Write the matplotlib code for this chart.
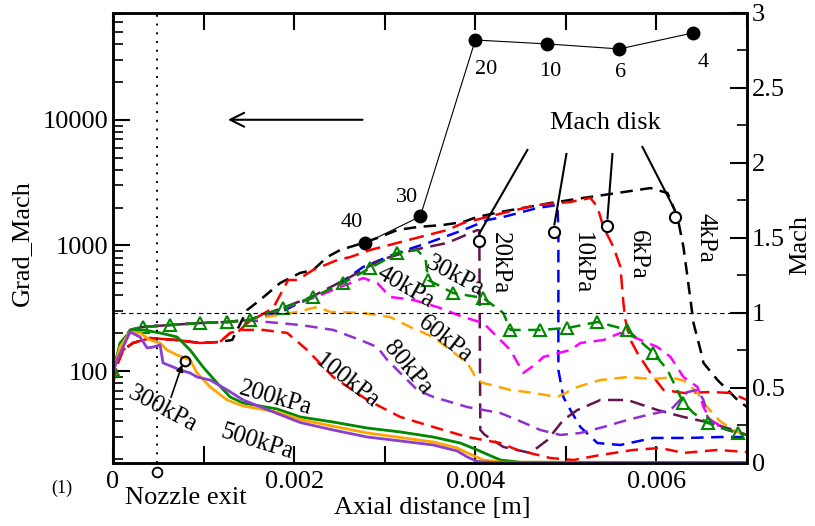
import numpy as np
import matplotlib
matplotlib.use("Agg")
import matplotlib.pyplot as plt
from matplotlib.ticker import LogLocator, MultipleLocator, NullFormatter

plt.rcParams['font.family'] = ['Liberation Serif', 'DejaVu Serif']
plt.rcParams['font.size'] = 19

# ---- Mach number along the axis (x in mm) ----
x_500 = [0, 0.044, 0.188, 0.298, 0.376, 0.442, 0.519, 0.552, 0.663, 0.74, 0.851, 0.928, 1.072, 1.26, 1.436,
         1.812, 2.066, 2.431, 2.807, 3.171, 3.536, 3.8, 3.912, 4.022, 4.2, 7.0]
m_500 = [0.6, 0.687, 0.873, 0.84, 0.767, 0.773, 0.787, 0.667, 0.64, 0.62, 0.6, 0.573, 0.553, 0.487, 0.42,
         0.33, 0.27, 0.22, 0.173, 0.147, 0.12, 0.08, 0.04, 0.01, 0.003, 0.003]

x_300 = [0, 0.077, 0.188, 0.298, 0.409, 0.519, 0.597, 0.707, 0.851, 0.928, 1.072, 1.26, 1.436, 1.812, 2.066,
         2.431, 2.807, 3.171, 3.536, 3.8, 3.912, 4.088, 4.3, 7.0]
m_300 = [0.6, 0.773, 0.873, 0.867, 0.82, 0.8, 0.753, 0.72, 0.687, 0.6, 0.507, 0.42, 0.38, 0.34, 0.29,
         0.245, 0.2, 0.17, 0.14, 0.1, 0.067, 0.02, 0.005, 0.003]

x_200 = [0, 0.077, 0.188, 0.331, 0.519, 0.707, 0.851, 0.994, 1.149, 1.293, 1.436, 1.812, 2.066, 2.431, 2.807,
         3.171, 3.536, 3.834, 4.022, 4.199, 4.276, 4.5, 7.0]
m_200 = [0.6, 0.8, 0.873, 0.887, 0.867, 0.84, 0.753, 0.64, 0.533, 0.44, 0.4, 0.36, 0.307, 0.273, 0.233,
         0.207, 0.173, 0.133, 0.087, 0.04, 0.02, 0.005, 0.003]

x_100 = [0, 0.044, 0.11, 0.22, 0.409, 0.7, 0.961, 1.18, 1.293, 1.436, 1.657, 1.923, 2.144, 2.431, 2.807,
         3.171, 3.536, 3.912, 4.276, 4.464, 4.829, 5.083, 5.381, 5.746, 6.044, 6.298, 6.674, 7.0]
m_100 = [0.533, 0.653, 0.753, 0.8, 0.833, 0.82, 0.8, 0.807, 0.867, 0.887, 0.887, 0.867, 0.753, 0.573, 0.42,
         0.307, 0.24, 0.173, 0.133, 0.087, 0.033, 0.02, 0.053, 0.087, 0.1, 0.067, 0.087, 0.073]

x_80 = [0, 0.08, 0.19, 0.33, 0.63, 0.96, 1.26, 1.436, 1.702, 2.066, 2.431, 2.729, 2.917, 3.028, 3.171, 3.359,
        3.536, 3.912, 4.276, 4.464, 4.718, 4.939, 5.16, 5.414, 5.68, 5.9, 6.155, 6.343, 6.453, 6.519, 6.564,
        6.674, 6.895, 7.0]
m_80 = [0.62, 0.79, 0.887, 0.907, 0.92, 0.933, 0.94, 0.953, 0.94, 0.92, 0.887, 0.82, 0.773, 0.687, 0.6, 0.487,
        0.44, 0.373, 0.333, 0.287, 0.22, 0.187, 0.2, 0.24, 0.287, 0.32, 0.353, 0.473, 0.487, 0.42, 0.307,
        0.24, 0.2, 0.187]

x_60 = [0, 0.08, 0.19, 0.33, 0.63, 0.96, 1.26, 1.5, 1.75, 2.033, 2.254, 2.4, 2.76, 3.06, 3.28, 3.536, 3.724,
        3.912, 4.022, 4.088, 4.387, 4.641, 4.906, 5.127, 5.381, 5.68, 5.967, 6.155, 6.3, 6.45, 6.55, 6.7,
        6.85, 7.0]
m_60 = [0.62, 0.79, 0.887, 0.907, 0.92, 0.933, 0.94, 0.953, 0.98, 1.007, 1.04, 1.007, 1.0, 0.973, 0.907, 0.84,
        0.753, 0.667, 0.553, 0.533, 0.487, 0.467, 0.44, 0.507, 0.553, 0.573, 0.56, 0.57, 0.55, 0.47, 0.38,
        0.28, 0.22, 0.18]

x_40 = [0, 0.08, 0.19, 0.33, 0.63, 0.96, 1.26, 1.5, 1.6, 1.88, 2.21, 2.508, 2.762, 2.917, 3.061, 3.315, 3.58,
        3.867, 4.088, 4.166, 4.387, 4.53, 4.685, 4.75, 5.05, 5.16, 5.414, 5.602, 5.746, 6.011, 6.155, 6.298,
        6.453, 6.519, 6.597, 6.785, 6.961, 7.0]
m_40 = [0.62, 0.79, 0.887, 0.907, 0.92, 0.933, 0.94, 0.953, 0.97, 1.03, 1.1, 1.173, 1.233, 1.2, 1.107, 1.087,
        1.04, 0.973, 0.933, 0.887, 0.753, 0.6, 0.667, 0.707, 0.753, 0.8, 0.82, 0.867, 0.84, 0.773, 0.707,
        0.573, 0.507, 0.373, 0.287, 0.22, 0.2, 0.195]

x_30 = [0, 0.08, 0.19, 0.331, 0.63, 0.961, 1.26, 1.514, 1.591, 1.878, 2.21, 2.541, 2.84, 3.138, 3.359, 3.45,
        3.48, 3.757, 4.088, 4.309, 4.387, 4.718, 5.017, 5.348, 5.68, 5.967, 6.122, 6.298, 6.409, 6.564, 6.895,
        7.0]
m_30 = [0.62, 0.78, 0.887, 0.907, 0.92, 0.933, 0.94, 0.953, 0.973, 1.033, 1.107, 1.2, 1.3, 1.4, 1.42, 1.36,
        1.22, 1.133, 1.1, 1.0, 0.887, 0.887, 0.9, 0.94, 0.887, 0.733, 0.62, 0.4, 0.333, 0.267, 0.2, 0.187]
tri_30 = [0, 3, 4, 5, 6, 7, 9, 10, 11, 12, 13, 16, 17, 18, 20, 21, 22, 23, 24, 25, 27, 29, 30]

x_20 = [0, 0.08, 0.19, 0.33, 0.63, 0.96, 1.26, 1.5, 1.6, 1.9, 2.2, 2.619, 2.95, 3.315, 3.691, 4.022, 4.044,
        4.055, 4.1, 4.309, 4.608, 4.796, 4.972, 5.127, 5.381, 5.68, 6.011, 6.298, 6.597, 6.851, 7.0]
m_20 = [0.62, 0.79, 0.887, 0.907, 0.92, 0.933, 0.94, 0.953, 0.975, 1.04, 1.11, 1.24, 1.353, 1.42, 1.467,
        1.553, 1.55, 0.22, 0.19, 0.107, 0.067, 0.153, 0.287, 0.353, 0.42, 0.42, 0.353, 0.307, 0.267, 0.22,
        0.187]

x_10 = [0, 0.08, 0.19, 0.33, 0.63, 0.96, 1.26, 1.5, 1.7, 1.9, 2.033, 2.398, 2.762, 3.138, 3.503, 3.867,
        4.133, 4.309, 4.685, 4.906, 4.917, 4.917, 4.972, 5.05, 5.16, 5.348, 5.602, 5.967, 6.343, 6.707, 7.0]
m_10 = [0.62, 0.79, 0.887, 0.907, 0.92, 0.933, 0.94, 0.953, 0.98, 1.02, 1.06, 1.153, 1.307, 1.4, 1.473,
        1.553, 1.62, 1.64, 1.7, 1.72, 1.553, 0.62, 0.44, 0.353, 0.24, 0.133, 0.12, 0.167, 0.167, 0.173, 0.173]

x_6 = [0, 0.044, 0.11, 0.22, 0.409, 0.7, 0.961, 1.18, 1.293, 1.37, 1.481, 1.768, 1.934, 2.033, 2.21, 2.475,
       2.619, 2.84, 3.138, 3.392, 3.691, 3.867, 4.133, 4.309, 4.685, 5.05, 5.271, 5.348, 5.414, 5.525, 5.602,
       5.635, 5.657, 5.713, 5.79, 5.934, 6.077, 6.298, 6.597, 6.818, 7.0]
m_6 = [0.533, 0.653, 0.753, 0.8, 0.833, 0.82, 0.8, 0.807, 0.867, 0.867, 0.933, 1.033, 1.22, 1.22, 1.287, 1.353,
       1.373, 1.42, 1.467, 1.507, 1.553, 1.6, 1.64, 1.667, 1.72, 1.74, 1.767, 1.707, 1.573, 1.44, 1.307,
       1.067, 0.953, 0.82, 0.733, 0.6, 0.487, 0.467, 0.473, 0.467, 0.42]

x_4 = [0, 0.044, 0.11, 0.22, 0.409, 0.7, 0.961, 1.18, 1.315, 1.481, 1.624, 1.845, 2.066, 2.21, 2.365, 2.508,
       2.762, 2.95, 3.138, 3.359, 3.646, 3.867, 4.022, 4.276, 4.829, 5.193, 5.569, 5.934, 6.122, 6.232, 6.298,
       6.376, 6.409, 6.486, 6.519, 6.674, 6.785, 6.895, 7.0]
m_4 = [0.533, 0.653, 0.753, 0.8, 0.833, 0.82, 0.8, 0.807, 0.82, 1.02, 1.087, 1.2, 1.267, 1.287, 1.373, 1.42,
       1.467, 1.507, 1.553, 1.573, 1.587, 1.607, 1.64, 1.673, 1.733, 1.767, 1.8, 1.833, 1.8, 1.64, 1.44,
       1.087, 0.933, 0.753, 0.667, 0.553, 0.487, 0.42, 0.373]

# ---- Grad_Mach at the Mach disk for each back pressure ----
gx = [2.785, 3.392, 4.0, 4.796, 5.59, 6.4]
grad = [1040, 1700, 43100, 40100, 36600, 49000]
glab = ['40', '30', '20', '10', '6', '4']
glab_x = [2.64, 3.25, 4.12, 4.83, 5.6, 6.52]
glab_m = [1.6, 1.773, 2.62, 2.607, 2.6, 2.673]

# Mach disk positions (circle) and where the pointer lines end
disk_x = [4.044, 4.873, 5.459, 6.2]
disk_m = [1.48, 1.54, 1.58, 1.64]
ptr_x = [4.575, 5.006, 5.514, 5.845]
ptr_m = [2.087, 2.06, 2.06, 2.107]

mm = 1e-3
fig = plt.figure(figsize=(8.15, 5.26), dpi=100)
ax = fig.add_axes([0.1387, 0.1198, 0.7779, 0.8555])
ax2 = ax.twinx()

dash = (0, (5, 3))
lw = 1.8
styles = [
    (x_4, m_4, 'black', dash),
    (x_6, m_6, '#ff0000', (0, (6, 3))),
    (x_10, m_10, '#0000ff', dash),
    (x_20, m_20, '#661450', (0, (6, 3))),
    (x_40, m_40, '#ff00ff', dash),
    (x_60, m_60, '#ffa500', dash),
    (x_80, m_80, '#9030d0', dash),
    (x_100, m_100, '#ff0000', dash),
]
for xs, ms, c, ls in styles:
    ax2.plot(np.array(xs) * mm, ms, color=c, lw=lw, linestyle=ls)

ax2.plot(np.array(x_30) * mm, m_30, color='#008800', lw=lw, linestyle=dash, marker='^',
         markevery=tri_30, markersize=9, mfc='none', mec='#008800', mew=1.5)

ax2.plot(np.array(x_200) * mm, m_200, color='#008800', lw=2)
ax2.plot(np.array(x_300) * mm, m_300, color='#ffa500', lw=2)
ax2.plot(np.array(x_500) * mm, m_500, color='#8a3fd1', lw=2)

# sonic line and nozzle exit
ax2.axhline(1.0, color='black', lw=0.8, linestyle=(0, (4, 3)))
ax2.axvline(0.48 * mm, color='black', lw=1.4, linestyle=(0, (1, 3.5)))
ax2.plot([0.486 * mm], [-0.06], 'o', mfc='white', mec='black', mew=1.3, ms=7, clip_on=False)

# Grad_Mach points on the log axis
ax.plot(np.array(gx) * mm, grad, '-o', color='black', lw=0.8, ms=9, zorder=5)
for lx, lm, t in zip(glab_x, glab_m, glab):
    ax2.text(lx * mm, lm, t, fontsize=16, ha='center', va='center')
ax.annotate('', xy=(1.238 * mm, 10000), xytext=(2.785 * mm, 10000),
            arrowprops=dict(arrowstyle='->', lw=1.5, color='black', mutation_scale=25))

# Mach disk pointers
for dx, dm, px, pm in zip(disk_x, disk_m, ptr_x, ptr_m):
    ax2.plot([dx * mm, px * mm], [dm + 0.05, pm], color='black', lw=1.5)
    ax2.plot([dx * mm], [dm], 'o', mfc='white', mec='black', mew=1.5, ms=8)
ax2.text(5.44 * mm, 2.267, 'Mach disk', ha='center', va='center')

# 300kPa pointer
ax2.annotate('', xy=(0.773 * mm, 0.673), xytext=(0.63 * mm, 0.42),
             arrowprops=dict(arrowstyle='-|>', lw=1.2, color='black', mutation_scale=10))
ax2.plot([0.79 * mm], [0.68], 'o', mfc='none', mec='black', mew=1.5, ms=7)

# curve labels
labels = [
    ('500kPa', 1.59, 0.14, -17), ('300kPa', 0.55, 0.36, -28), ('200kPa', 1.79, 0.433, -16),
    ('100kPa', 2.586, 0.547, -38), ('80kPa', 3.25, 0.633, -50), ('60kPa', 3.67, 0.827, -38),
    ('40kPa', 3.23, 1.173, -30), ('30kPa', 3.78, 1.247, -28),
    ('20kPa', 4.276, 1.333, -90), ('10kPa', 5.18, 1.333, -90), ('6kPa', 5.8, 1.387, -90),
    ('4kPa', 6.54, 1.5, -90),
]
for t, lx, lm, r in labels:
    ax2.text(lx * mm, lm, t, rotation=r, ha='center', va='center', rotation_mode='anchor', fontsize=18)

# axes setup
ax.set_xlim(0, 7.0 * mm)
ax.set_yscale('log')
ax.set_ylim(18.6, 70700)
ax.set_yticks([100, 1000, 10000], labels=['100', '1000', '10000'])
ax.yaxis.set_minor_locator(LogLocator(base=10, subs=np.arange(2, 10), numticks=20))
ax.yaxis.set_minor_formatter(NullFormatter())
ax.set_xticks(np.arange(8) * mm, labels=['0', '', '0.002', '', '0.004', '', '0.006', ''])

ax2.set_ylim(0, 3)
ax2.set_yticks([0, 0.5, 1, 1.5, 2, 2.5, 3], labels=['0', '0.5', '1', '1.5', '2', '2.5', '3'])
ax2.yaxis.set_minor_locator(MultipleLocator(0.25))

ax.tick_params(axis='x', which='both', direction='in', top=True, length=12, width=1.5, pad=6)
ax.tick_params(axis='y', which='major', direction='in', length=12, width=1.5, right=False)
ax.tick_params(axis='y', which='minor', direction='in', length=7, width=1.2, right=False)
ax2.tick_params(axis='y', which='major', direction='in', length=12, width=1.5)
ax2.tick_params(axis='y', which='minor', direction='in', length=7, width=1.2)
for sp in ax.spines.values():
    sp.set_linewidth(1.8)
for sp in ax2.spines.values():
    sp.set_linewidth(1.8)

fig.text(0.027, 0.538, 'Grad_Mach', rotation=90, ha='center', va='center')
fig.text(0.9816, 0.534, 'Mach', rotation=90, ha='center', va='center')
fig.text(0.530, 0.034, 'Axial distance [m]', ha='center', va='center')
fig.text(0.228, 0.053, 'Nozzle exit', ha='center', va='center')
fig.text(0.076, 0.072, '(1)', ha='center', va='center', fontsize=13)

fig.savefig('out.png', dpi=100)
